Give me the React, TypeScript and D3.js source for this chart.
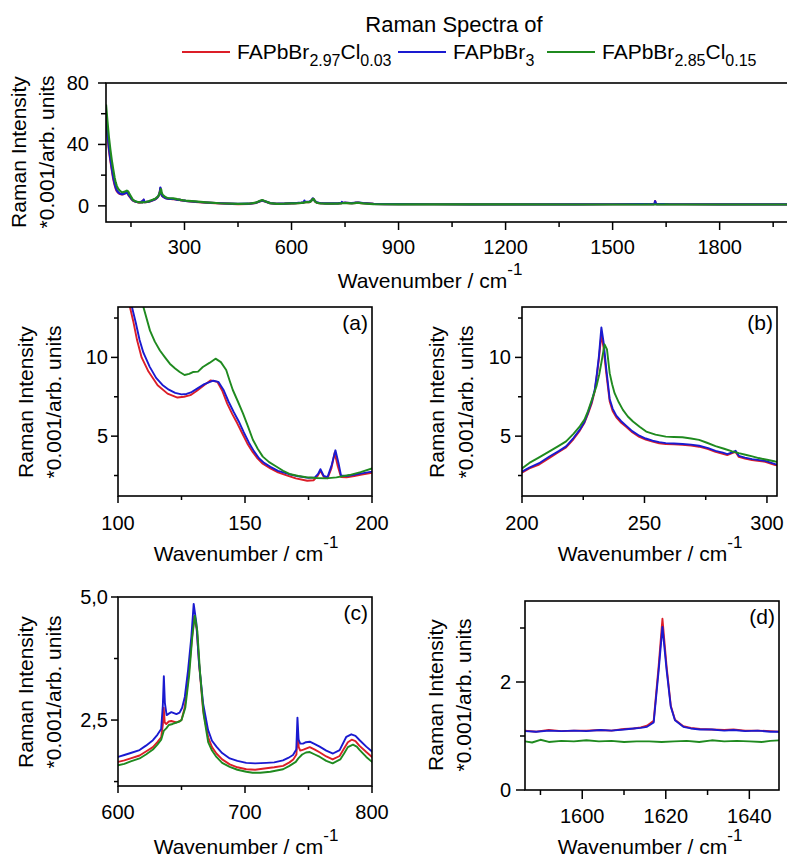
import React from 'react';
import * as d3 from 'd3';

type Pt = [number, number];

// spectra as [wavenumber / cm-1, intensity *0.001 arb. units]
const redLow: Pt[] = [[80, 56], [84, 46], [88, 37], [92, 30], [96, 24], [100, 18], [103, 14.8]];
const blueLow: Pt[] = [[80, 58], [84, 48], [88, 38.5], [92, 31], [96, 25], [100, 19], [104, 14.8]];
const greenLow: Pt[] = [[80, 66], [84, 55], [88, 45], [92, 37], [96, 30], [100, 24], [104, 18.5]];

const redA: Pt[] = [
  [104.7, 13.2], [106, 12.3], [107.5, 11.1], [109.3, 10], [112, 9.1], [115.6, 8.23], [119.5, 7.7],
  [123.4, 7.45], [126, 7.5], [128.5, 7.6], [131.2, 7.9], [134, 8.25], [136.5, 8.54], [139.1, 8.45],
  [141, 7.9], [143, 7.07], [145, 6.4], [147, 5.8], [149, 5.15], [150.9, 4.54], [153, 4.0], [154.9, 3.59],
  [157, 3.25], [160, 2.95], [163, 2.7], [166.7, 2.49], [170, 2.32], [174.5, 2.17], [177, 2.2],
  [178.5, 2.45], [179.7, 2.8], [181, 2.42], [182.5, 2.32], [184, 2.95], [185.3, 3.95], [186.5, 3.1],
  [187.8, 2.4], [190, 2.38], [193, 2.47], [196, 2.56], [200, 2.68],
];
const blueA: Pt[] = [
  [105.5, 13.2], [107, 12.2], [108.5, 11.1], [110, 10.3], [112.5, 9.4], [115, 8.7], [117.5, 8.25],
  [120, 7.95], [122.5, 7.75], [125, 7.65], [127, 7.68], [129, 7.8], [131, 8.0], [134, 8.3],
  [137.5, 8.52], [139.5, 8.45], [141.5, 7.95], [143.5, 7.2], [145.5, 6.55], [147.5, 5.95], [149.5, 5.25],
  [151.5, 4.6], [153.5, 4.05], [155.5, 3.6], [157.5, 3.3], [160, 3.05], [163, 2.8], [167, 2.6],
  [171, 2.45], [175, 2.35], [177.5, 2.38], [178.8, 2.6], [179.7, 2.9], [181, 2.47], [182.5, 2.4],
  [184.2, 3.2], [185.6, 4.1], [186.8, 3.3], [187.8, 2.5], [190, 2.47], [193, 2.55], [196, 2.64], [200, 2.75],
];
const greenA: Pt[] = [
  [107, 15.3], [110, 13.2], [112.6, 11.7], [114.5, 11.0], [116.5, 10.44], [118.5, 10.0], [120.4, 9.6],
  [122.5, 9.3], [124.3, 9.07], [126.2, 8.88], [128, 8.95], [129.5, 9.07], [131.5, 9.1], [133.4, 9.39],
  [136, 9.65], [138.4, 9.92], [140.5, 9.7], [142.6, 9.2], [144, 8.5], [145.2, 7.93], [147.2, 7.2],
  [149.2, 6.45], [151.2, 5.6], [153.1, 4.77], [155, 4.2], [157, 3.7], [159.5, 3.35], [162.3, 3.07],
  [165, 2.8], [167.5, 2.6], [171, 2.47], [174.1, 2.39], [178, 2.34], [181.9, 2.32], [186, 2.38],
  [191.1, 2.53], [195.5, 2.72], [200, 2.95],
];

const redB: Pt[] = [
  [203, 2.95], [207, 3.2], [211.2, 3.62], [215, 4.0], [218, 4.28], [221, 4.8], [223.6, 5.35], [225.5, 5.85],
  [226.9, 6.4], [228.5, 7.1], [229.7, 7.85], [230.6, 8.9], [231.4, 9.9], [232.4, 11.45], [233.3, 10.6],
  [234.4, 9.0], [235.8, 7.2], [237, 6.6], [238.5, 6.2], [240.5, 5.85], [242.5, 5.6], [245, 5.25],
  [247.9, 4.95], [250.5, 4.78], [253.3, 4.65], [256, 4.55], [258.7, 4.5], [262, 4.48], [265.5, 4.45],
  [269, 4.4], [272.3, 4.33], [276, 4.18], [279, 4.0], [282, 3.88], [283.8, 3.8], [285.8, 3.92],
  [287.2, 4.0], [288.5, 3.68], [291, 3.58], [293.9, 3.48], [297, 3.42], [299.3, 3.37], [303.4, 3.17], [310, 3.0],
];
const blueB: Pt[] = [
  [203, 3.0], [207, 3.28], [211.2, 3.71], [215, 4.05], [218, 4.35], [221, 4.88], [223.6, 5.41], [225.5, 5.9],
  [226.9, 6.48], [228.5, 7.2], [229.7, 7.96], [230.6, 9.0], [231.4, 10.08], [232.4, 11.9], [233.3, 10.97],
  [234.4, 9.27], [235.8, 7.36], [237, 6.75], [238.5, 6.3], [240.5, 5.95], [242.5, 5.67], [245, 5.32],
  [247.9, 5.03], [250.5, 4.85], [253.3, 4.71], [256, 4.62], [258.7, 4.56], [262, 4.53], [265.5, 4.5],
  [269, 4.46], [272.3, 4.39], [276, 4.24], [279, 4.07], [282, 3.95], [283.8, 3.86], [285.8, 3.97],
  [287.2, 4.07], [288.5, 3.75], [291, 3.64], [293.9, 3.54], [297, 3.48], [299.3, 3.43], [303.4, 3.22], [310, 3.05],
];
const greenB: Pt[] = [
  [203, 3.3], [207, 3.65], [211.2, 4.03], [215, 4.38], [218, 4.67], [221, 5.15], [223.6, 5.62], [225.5, 6.05],
  [226.9, 6.58], [228.5, 7.3], [230.4, 8.17], [231.5, 8.9], [232.4, 9.66], [233.7, 10.83], [234.7, 10.5],
  [235.8, 9.0], [236.8, 8.3], [237.8, 7.73], [239.5, 7.15], [241.2, 6.67], [243.2, 6.25], [245.3, 5.93],
  [248, 5.6], [250.7, 5.29], [254.5, 5.1], [258.7, 4.97], [262, 4.95], [265.5, 4.93], [269, 4.85],
  [272.3, 4.76], [275.5, 4.58], [279, 4.37], [282.5, 4.2], [285.8, 4.03], [288.5, 3.92], [291.2, 3.82],
  [294, 3.72], [296.6, 3.61], [300, 3.5], [303.4, 3.39], [310, 3.25],
];

const redMid: Pt[] = [[330, 2.6], [360, 2.1], [400, 1.6], [450, 1.2], [480, 1.3], [500, 1.9], [510, 2.8], [518, 3.4], [526, 2.8], [540, 1.7], [560, 1.3], [580, 1.4]];
const blueMid: Pt[] = [[330, 2.7], [360, 2.2], [400, 1.7], [450, 1.3], [480, 1.4], [500, 2.0], [510, 2.9], [518, 3.5], [526, 2.9], [540, 1.8], [560, 1.4], [580, 1.5]];
const greenMid: Pt[] = [[330, 2.9], [360, 2.3], [400, 1.7], [450, 1.3], [480, 1.4], [500, 2.1], [510, 3.1], [518, 3.8], [526, 3.0], [540, 1.8], [560, 1.35], [580, 1.4]];

const redC: Pt[] = [
  [600, 1.65], [605, 1.68], [610, 1.72], [617, 1.78], [622, 1.86], [627.5, 1.95], [631, 2.05], [634, 2.15],
  [635.3, 2.4], [636, 2.75], [636.8, 2.45], [638, 2.42], [640, 2.47], [642, 2.48], [646, 2.45], [650, 2.5],
  [652.5, 2.75], [655.5, 3.4], [658, 4.1], [660, 4.6], [662, 4.35], [664, 3.6], [667, 2.7], [671, 2.15],
  [674, 1.95], [677.5, 1.82], [682, 1.7], [688, 1.6], [694, 1.54], [701, 1.5], [708, 1.49], [716.8, 1.52],
  [723, 1.54], [730, 1.57], [735, 1.64], [738, 1.7], [740.5, 1.8], [741.5, 2.25], [742.3, 1.95],
  [743.5, 1.88], [746, 1.9], [751, 1.95], [755, 1.9], [759, 1.84], [764, 1.76], [769, 1.7], [774.5, 1.77],
  [778, 1.92], [781, 2.05], [784, 2.1], [787, 2.07], [790, 1.98], [795.5, 1.85], [800, 1.75],
];
const blueC: Pt[] = [
  [600, 1.75], [605, 1.79], [610, 1.83], [617, 1.89], [622, 1.98], [627.5, 2.09], [631, 2.2], [634, 2.32],
  [635.3, 2.8], [636.1, 3.39], [636.9, 2.85], [638.3, 2.6], [640, 2.63], [642, 2.66], [644, 2.64], [646, 2.62],
  [648.5, 2.65], [650.5, 2.75], [652.6, 2.97], [655.2, 3.52], [657.8, 4.2], [659.6, 4.86], [661.7, 4.47],
  [663.8, 3.65], [667, 2.84], [670.9, 2.3], [674, 2.08], [677.5, 1.96], [682, 1.83], [688, 1.72], [694, 1.67],
  [701, 1.63], [708, 1.62], [716.8, 1.63], [723, 1.64], [729.9, 1.68], [734, 1.73], [737.8, 1.79],
  [740.4, 1.9], [741.3, 2.55], [742.2, 2.1], [743.5, 2.02], [745.7, 2.02], [748, 2.05], [751, 2.06],
  [755, 2.01], [758.8, 1.96], [764, 1.88], [769.3, 1.82], [774.5, 1.89], [779.8, 2.16], [783.7, 2.21],
  [787, 2.18], [790.3, 2.09], [795.5, 1.96], [800, 1.86],
];
const greenC: Pt[] = [
  [600, 1.58], [605, 1.61], [610, 1.66], [617, 1.72], [622, 1.8], [627.5, 1.9], [631, 2.0], [634, 2.1],
  [636, 2.28], [638, 2.33], [640, 2.4], [643, 2.42], [646, 2.45], [648.5, 2.47], [650, 2.5], [653, 2.75],
  [656, 3.4], [658.5, 4.2], [660.5, 4.62], [662.5, 4.3], [664.5, 3.5], [667.5, 2.6], [671, 2.05], [674, 1.88],
  [677.5, 1.75], [682, 1.63], [688, 1.55], [694, 1.49], [701, 1.45], [706, 1.43], [712, 1.43], [720, 1.45],
  [730, 1.5], [735, 1.57], [740, 1.65], [742, 1.72], [745, 1.8], [748, 1.84], [751, 1.85], [755, 1.8],
  [759, 1.75], [764, 1.67], [769, 1.62], [775, 1.7], [778, 1.82], [781, 1.95], [785, 2.0], [788, 1.96],
  [790, 1.9], [795.5, 1.75], [800, 1.65],
];

const redHigh: Pt[] = [[810, 1.6], [830, 1.3], [860, 1.15], [900, 1.1], [1000, 1.05], [1100, 1.02], [1200, 1.0], [1300, 1.0], [1400, 1.02], [1500, 1.05], [1580, 1.08]];
const blueHigh: Pt[] = [[810, 1.7], [830, 1.35], [860, 1.2], [900, 1.12], [1000, 1.06], [1100, 1.03], [1200, 1.0], [1300, 1.0], [1400, 1.02], [1500, 1.05], [1580, 1.08]];
const greenHigh: Pt[] = [[810, 1.5], [830, 1.2], [860, 1.05], [900, 1.0], [1000, 0.95], [1100, 0.93], [1200, 0.92], [1400, 0.9], [1580, 0.9]];

const redD: Pt[] = [
  [1586.3, 1.1], [1589, 1.08], [1592, 1.11], [1595, 1.09], [1598, 1.1], [1601, 1.1], [1604.3, 1.11],
  [1607, 1.1], [1610, 1.13], [1612.3, 1.14], [1614, 1.16], [1615.5, 1.19], [1617.1, 1.28], [1618.3, 2.3],
  [1619.2, 3.17], [1620.2, 2.28], [1621.2, 1.56], [1622.2, 1.3], [1624.2, 1.18], [1626, 1.15], [1628.2, 1.13],
  [1631, 1.12], [1634, 1.11], [1636.2, 1.12], [1639, 1.1], [1642, 1.1], [1645, 1.09], [1647.5, 1.08],
];
const blueD: Pt[] = [
  [1586.3, 1.09], [1589, 1.08], [1592, 1.1], [1595, 1.09], [1598, 1.1], [1601, 1.09], [1604.3, 1.11],
  [1607, 1.1], [1610, 1.12], [1612.3, 1.14], [1614, 1.15], [1615.5, 1.17], [1617.1, 1.25], [1618.3, 2.22],
  [1619.2, 3.02], [1620.2, 2.22], [1621.2, 1.54], [1622.2, 1.29], [1624.2, 1.17], [1626, 1.14], [1628.2, 1.12],
  [1631, 1.12], [1634, 1.1], [1636.2, 1.11], [1639, 1.09], [1642, 1.1], [1645, 1.08], [1647.5, 1.08],
];
const greenD: Pt[] = [
  [1586.3, 0.9], [1588, 0.88], [1590, 0.93], [1592, 0.89], [1595, 0.91], [1598, 0.9], [1601, 0.92],
  [1604, 0.9], [1607, 0.91], [1610, 0.89], [1613, 0.9], [1616, 0.9], [1619, 0.89], [1622, 0.9],
  [1625, 0.91], [1628, 0.89], [1631, 0.92], [1634, 0.9], [1637, 0.91], [1640, 0.9], [1643, 0.89],
  [1645, 0.91], [1647.5, 0.92],
];

const redTail: Pt[] = [[1660, 1.07], [1700, 1.05], [1800, 1.02], [1900, 1.0], [2000, 1.0]];
const blueTail: Pt[] = [[1660, 1.07], [1700, 1.05], [1800, 1.02], [1900, 1.0], [2000, 1.0]];
const greenTail: Pt[] = [[1660, 0.9], [1800, 0.89], [2000, 0.88]];

const redSpectrum = [...redLow, ...redA, ...redB, ...redMid, ...redC, ...redHigh, ...redD, ...redTail];
const blueSpectrum = [...blueLow, ...blueA, ...blueB, ...blueMid, ...blueC, ...blueHigh, ...blueD, ...blueTail];
const greenSpectrum = [...greenLow, ...greenA, ...greenB, ...greenMid, ...greenC, ...greenHigh, ...greenD, ...greenTail];

const spectra = [redSpectrum, blueSpectrum, greenSpectrum];
const colors = ['#dc1e28', '#1a1ad0', '#1f8a1f'];
// legend names: [main, sub, main, sub]
const legendNames = [
  ['FAPbBr', '2.97', 'Cl', '0.03'],
  ['FAPbBr', '3', '', ''],
  ['FAPbBr', '2.85', 'Cl', '0.15'],
];
const legendX = [182, 398, 547];

const FONT = 'Liberation Sans, Arial, sans-serif';

type PanelProps = {
  id: string;
  left: number; top: number; right: number; bottom: number;
  xDomain: [number, number]; yDomain: [number, number];
  xMajor: number[]; xMinor: number[]; yMajor: number[]; yMinor: number[];
  yFmt?: (v: number) => string;
  tickLen: number; minorLen: number; yLabelGap: number; xLabelDy: number;
  titleX: number; titleY: number;
  yTitleX: [number, number]; yTitleY: number;
  letter?: string;
  lineWidth: number;
};

function Panel(p: PanelProps) {
  const x = d3.scaleLinear().domain(p.xDomain).range([p.left, p.right]);
  const y = d3.scaleLinear().domain(p.yDomain).range([p.bottom, p.top]);
  const line = d3.line<Pt>().x(d => x(d[0])).y(d => y(d[1]));
  const fmt = p.yFmt ?? ((v: number) => String(v));
  return (
    <g>
      <defs>
        <clipPath id={'clip-' + p.id}>
          <rect x={p.left} y={p.top} width={p.right - p.left} height={p.bottom - p.top} />
        </clipPath>
      </defs>
      <g clipPath={`url(#clip-${p.id})`}>
        {spectra.map((s, i) => (
          <path key={i} d={line(s) ?? ''} fill="none" stroke={colors[i]} strokeWidth={p.lineWidth} strokeLinejoin="round" />
        ))}
      </g>
      <rect x={p.left} y={p.top} width={p.right - p.left} height={p.bottom - p.top} fill="none" stroke="#000" strokeWidth={1.6} />
      {p.xMajor.map(v => (
        <g key={'xm' + v}>
          <line x1={x(v)} x2={x(v)} y1={p.bottom} y2={p.bottom + p.tickLen} stroke="#000" strokeWidth={1.5} />
          <text x={x(v)} y={p.bottom + p.xLabelDy} textAnchor="middle" fontSize={20}>{v}</text>
        </g>
      ))}
      {p.xMinor.map(v => (
        <line key={'xn' + v} x1={x(v)} x2={x(v)} y1={p.bottom} y2={p.bottom + p.minorLen} stroke="#000" strokeWidth={1.5} />
      ))}
      {p.yMajor.map(v => (
        <g key={'ym' + v}>
          <line x1={p.left - p.tickLen} x2={p.left} y1={y(v)} y2={y(v)} stroke="#000" strokeWidth={1.5} />
          <text x={p.left - p.yLabelGap} y={y(v) + 7} textAnchor="end" fontSize={20}>{fmt(v)}</text>
        </g>
      ))}
      {p.yMinor.map(v => (
        <line key={'yn' + v} x1={p.left - p.minorLen} x2={p.left} y1={y(v)} y2={y(v)} stroke="#000" strokeWidth={1.5} />
      ))}
      <text x={p.titleX} y={p.titleY} textAnchor="middle" fontSize={21}>
        Wavenumber / cm<tspan dy={-13} fontSize={17}>-1</tspan>
      </text>
      <text transform={`translate(${p.yTitleX[0]},${p.yTitleY}) rotate(-90)`} textAnchor="middle" fontSize={21}>Raman Intensity</text>
      <text transform={`translate(${p.yTitleX[1]},${p.yTitleY}) rotate(-90)`} textAnchor="middle" fontSize={21}>*0.001/arb. units</text>
      {p.letter && (
        <text x={p.right - 4} y={p.top + 23} textAnchor="end" fontSize={21}>{p.letter}</text>
      )}
    </g>
  );
}

export default function App() {
  const commaFmt = (v: number) => d3.format('.1f')(v).replace('.', ',');
  return (
    <svg width={787} height={857} style={{ position: 'absolute', left: 0, top: 0, background: '#fff' }} fontFamily={FONT}>
      <text x={454} y={32} textAnchor="middle" fontSize={22}>Raman Spectra of</text>
      {legendNames.map((n, i) => (
        <g key={i}>
          <line x1={legendX[i]} x2={legendX[i] + 48} y1={52} y2={52} stroke={colors[i]} strokeWidth={2} />
          <text x={legendX[i] + 55} y={59} fontSize={21}>
            {n[0]}
            <tspan dy={7} fontSize={16}>{n[1]}</tspan>
            {n[2] && <tspan dy={-7} fontSize={21}>{n[2]}</tspan>}
            {n[3] && <tspan dy={7} fontSize={16}>{n[3]}</tspan>}
          </text>
        </g>
      ))}

      <Panel id="all" left={106} top={83} right={791} bottom={222}
        xDomain={[80, 2000]} yDomain={[-10.5, 80]}
        xMajor={[300, 600, 900, 1200, 1500, 1800]} xMinor={[150, 450, 750, 1050, 1350, 1650, 1950]}
        yMajor={[0, 40, 80]} yMinor={[20, 60]}
        tickLen={8} minorLen={5} yLabelGap={17} xLabelDy={32}
        titleX={430} titleY={288} yTitleX={[26, 54]} yTitleY={152} lineWidth={2.2} />

      <Panel id="a" left={118} top={307} right={372} bottom={496}
        xDomain={[100, 200]} yDomain={[1.2, 13.2]}
        xMajor={[100, 150, 200]} xMinor={[125, 175]}
        yMajor={[5, 10]} yMinor={[2.5, 7.5, 12.5]}
        tickLen={7} minorLen={4} yLabelGap={10} xLabelDy={34}
        titleX={246} titleY={561} yTitleX={[33, 61]} yTitleY={402} letter="(a)" lineWidth={1.9} />

      <Panel id="b" left={522} top={307} right={777} bottom={496}
        xDomain={[200, 304.1]} yDomain={[1.2, 13.2]}
        xMajor={[200, 250, 300]} xMinor={[225, 275]}
        yMajor={[5, 10]} yMinor={[2.5, 7.5, 12.5]}
        tickLen={7} minorLen={4} yLabelGap={11} xLabelDy={34}
        titleX={650} titleY={561} yTitleX={[444, 473]} yTitleY={402} letter="(b)" lineWidth={1.9} />

      <Panel id="c" left={118} top={597} right={372} bottom={786}
        xDomain={[600, 800]} yDomain={[1.16, 5.0]}
        xMajor={[600, 700, 800]} xMinor={[650, 750]}
        yMajor={[2.5, 5.0]} yMinor={[1.25, 3.75]} yFmt={commaFmt}
        tickLen={7} minorLen={4} yLabelGap={10} xLabelDy={33}
        titleX={246} titleY={854} yTitleX={[33, 61]} yTitleY={692} letter="(c)" lineWidth={1.9} />

      <Panel id="d" left={525} top={601} right={779} bottom={790}
        xDomain={[1586.3, 1647.1]} yDomain={[0, 3.5]}
        xMajor={[1600, 1620, 1640]} xMinor={[1590, 1610, 1630]}
        yMajor={[0, 2]} yMinor={[1, 3]}
        tickLen={9} minorLen={5} yLabelGap={14} xLabelDy={33}
        titleX={650} titleY={854} yTitleX={[443, 471]} yTitleY={695} letter="(d)" lineWidth={1.9} />
    </svg>
  );
}
